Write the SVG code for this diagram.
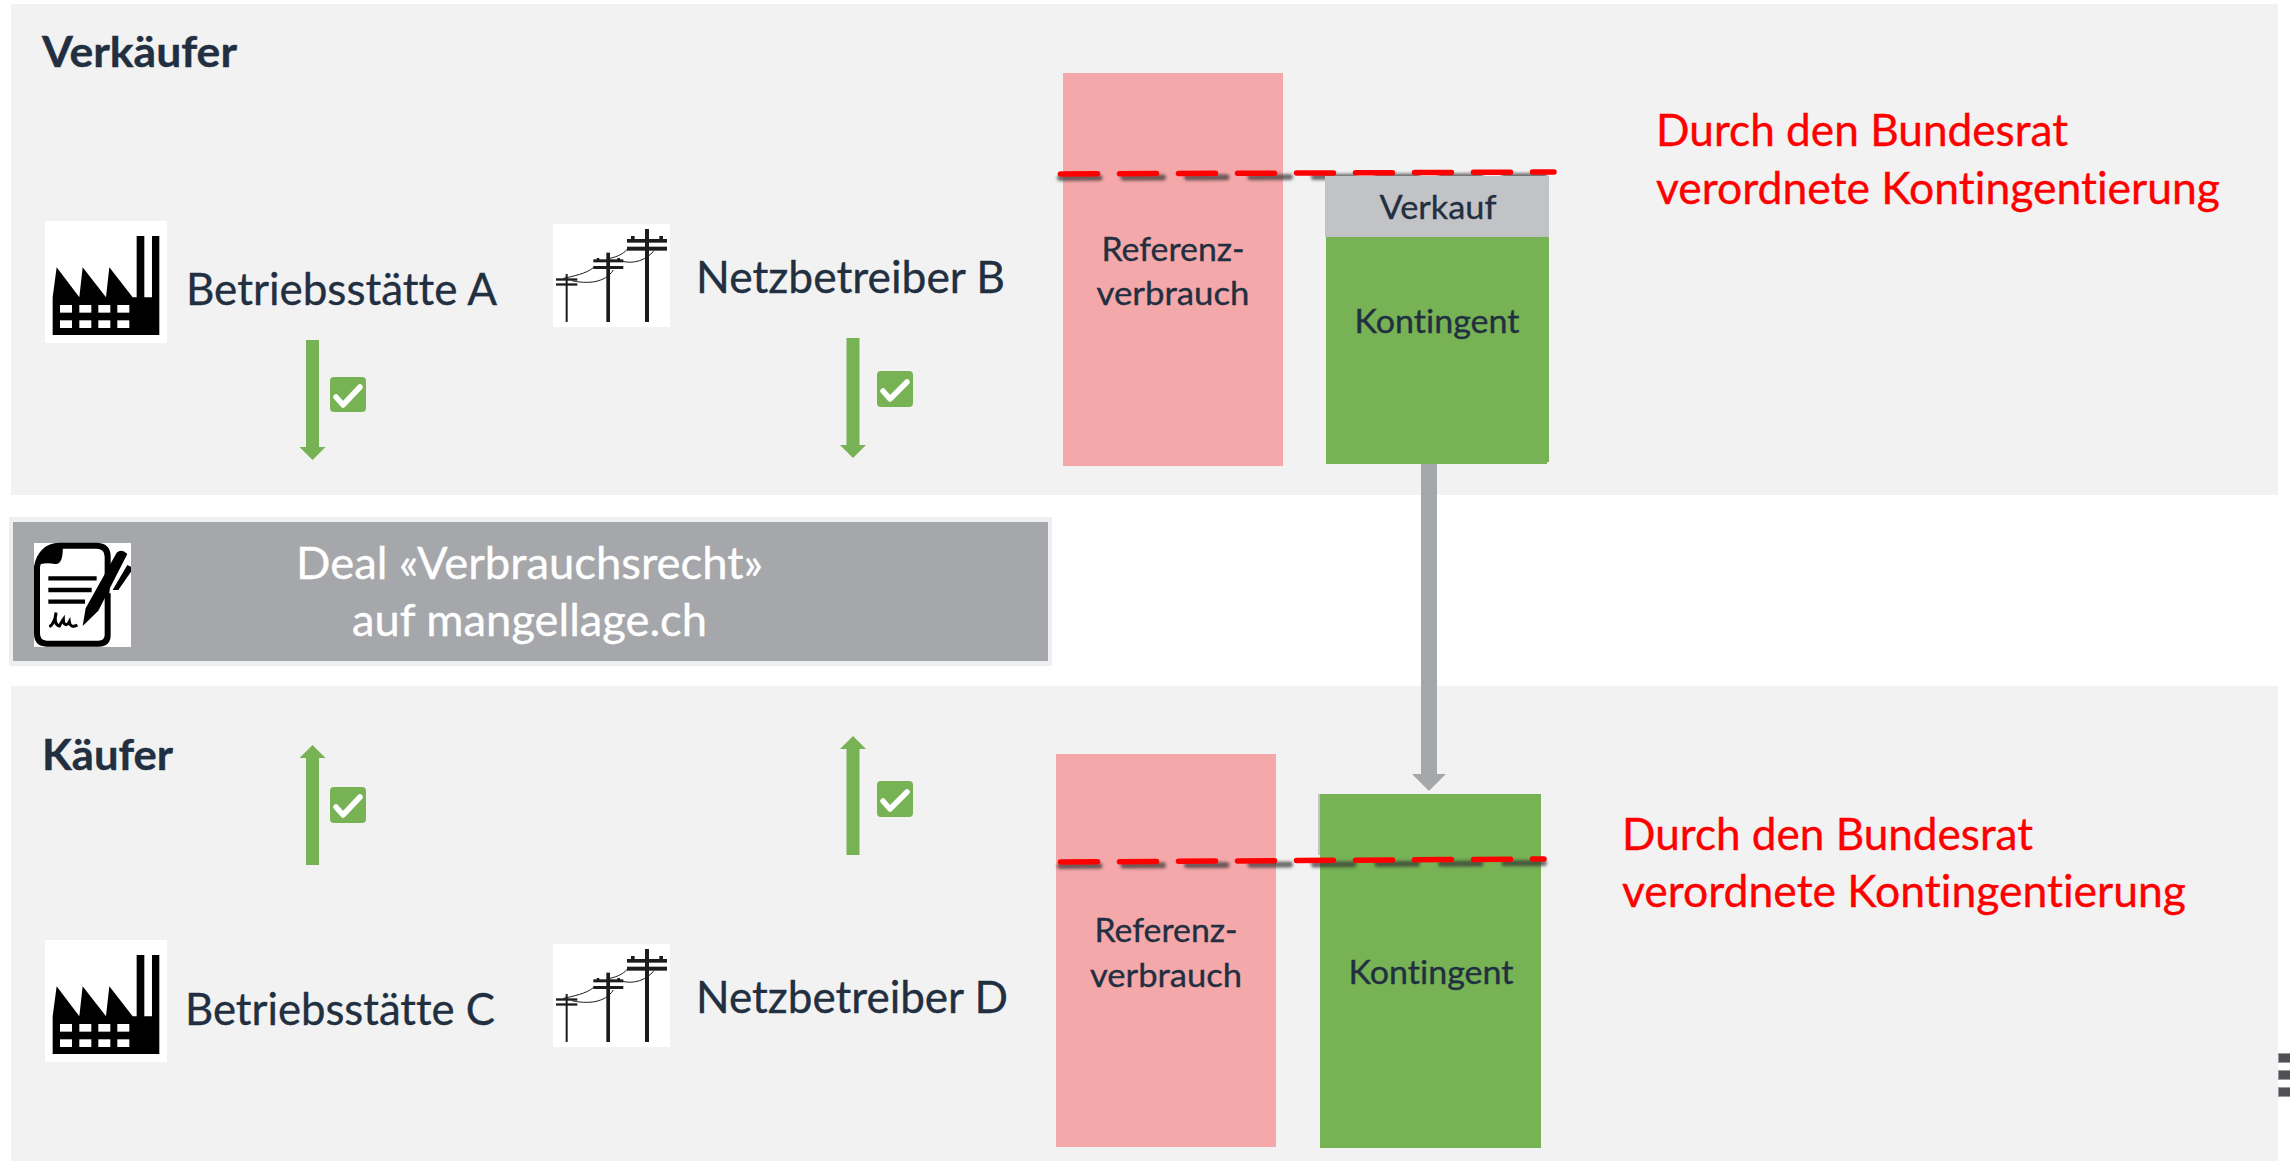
<svg xmlns="http://www.w3.org/2000/svg" width="2290" height="1161" viewBox="0 0 2290 1161">
<style>
.panel{fill:#f2f2f2}
.t{font-family:Lato,"Open Sans","Liberation Sans",sans-serif;fill:#222f40;font-variant-ligatures:none;stroke:#222f40;stroke-width:.35}
.lab{font-size:44px}
.small{font-size:33px;text-anchor:middle}
.head{font-size:42px;font-weight:700}
.deal{font-size:44px;fill:#fff;stroke:#fff;text-anchor:middle}
.red{font-size:44px;fill:#ff0000;stroke:#ff0000}
.pink{fill:#f5a8aa}
.green{fill:#77b255}
.dash{fill:none;stroke:#ff0000;stroke-width:5.500;stroke-linecap:round;stroke-dasharray:37 22}
.shadow{fill:none;stroke:#333;stroke-opacity:.7;stroke-width:6;stroke-linecap:round;stroke-dasharray:39.500 24;filter:url(#blur)}
.garrow{stroke:#77b255;stroke-width:13;fill:none;marker-end:url(#gh)}
.grey{stroke:#a6a7ab;stroke-width:16;fill:none;marker-end:url(#yh)}
.chk{fill:#77b255}
.tick{fill:none;stroke:#fff;stroke-width:5.500;stroke-linecap:round;stroke-linejoin:round}
.bar{fill:#4f5155;stroke:#9a9ca0;stroke-width:1}
</style>
<defs>
<filter id="blur" x="-5%" y="-400%" width="110%" height="900%"><feGaussianBlur stdDeviation="1.800"/></filter>
<marker id="gh" markerUnits="userSpaceOnUse" markerWidth="14" markerHeight="26" refX="0" refY="13" orient="auto" viewBox="0 0 14 26"><path d="M0 0L13 13L0 26Z" fill="#77b255"/></marker>
<marker id="yh" markerUnits="userSpaceOnUse" markerWidth="18" markerHeight="34" refX="0" refY="17" orient="auto" viewBox="0 0 18 34"><path d="M0 0L17 17L0 34Z" fill="#a6a7ab"/></marker>
<g id="factory-icon">
<rect x="45" y="221" width="122" height="122" fill="#fff"/>
<g transform="translate(30 210) scale(.3333)">
<path d="M68 375V262L80 172L148 262L158 172L228 262L238 172L308 262H320V78H343V262H366V78H388V375Z" fill="#000"/>
<g fill="#fff"><rect x="90" y="285" width="36" height="23"/><rect x="148" y="285" width="36" height="23"/><rect x="205" y="285" width="36" height="23"/><rect x="262" y="285" width="36" height="23"/><rect x="90" y="331" width="36" height="23"/><rect x="148" y="331" width="36" height="23"/><rect x="205" y="331" width="36" height="23"/><rect x="262" y="331" width="36" height="23"/></g>
</g>
</g>
<g id="poles-icon">
<rect x="553" y="224" width="117" height="103" fill="#fff"/>
<g transform="translate(530 210) scale(.3333)" fill="#1c1c1c">
<rect x="345" y="57" width="12" height="279"/><rect x="291" y="87" width="120" height="11"/><rect x="291" y="110" width="120" height="12"/><rect x="303" y="78" width="11" height="12"/><rect x="388" y="78" width="11" height="12"/>
<rect x="229" y="128" width="11" height="208"/><rect x="190" y="148" width="90" height="9"/><rect x="190" y="168" width="90" height="9"/><rect x="200" y="144" width="8" height="8"/><rect x="262" y="144" width="8" height="8"/>
<rect x="107" y="192" width="6" height="144"/><rect x="78" y="205" width="64" height="7"/><rect x="78" y="220" width="64" height="7"/>
<g fill="none" stroke="#1c1c1c" stroke-width="3"><path d="M100 205C150 195 180 185 195 168"/><path d="M125 212C170 222 225 220 250 180"/><path d="M240 145C265 140 285 128 297 112"/><path d="M270 152C310 165 350 150 372 122"/></g>
</g>
</g>
</defs>

<rect width="2290" height="1161" fill="#fff"/>

<g id="panel-verkaeufer"><rect class="panel" x="11" y="4" width="2267" height="491"/><text class="t head" x="42" y="67" textLength="195" lengthAdjust="spacingAndGlyphs">Verkäufer</text></g>
<g id="panel-kaeufer"><rect class="panel" x="11" y="686" width="2267" height="475"/><text class="t head" x="42" y="770" textLength="131" lengthAdjust="spacingAndGlyphs">Käufer</text></g>

<g id="menu-handle"><rect class="bar" x="2278.500" y="1053.500" width="12" height="9"/><rect class="bar" x="2278.500" y="1070.500" width="12" height="9"/><rect class="bar" x="2278.500" y="1087.500" width="12" height="9"/></g>

<g id="betriebsstaette-a"><use href="#factory-icon"/><text class="t lab" x="186" y="305" textLength="311" lengthAdjust="spacingAndGlyphs">Betriebsstätte A</text></g>
<g id="netzbetreiber-b"><use href="#poles-icon"/><text class="t lab" x="696" y="293" textLength="309" lengthAdjust="spacingAndGlyphs">Netzbetreiber B</text></g>
<g id="betriebsstaette-c"><use href="#factory-icon" y="719"/><text class="t lab" x="185" y="1025" textLength="310" lengthAdjust="spacingAndGlyphs">Betriebsstätte C</text></g>
<g id="netzbetreiber-d"><use href="#poles-icon" y="720"/><text class="t lab" x="696" y="1013" textLength="312" lengthAdjust="spacingAndGlyphs">Netzbetreiber D</text></g>

<g id="deal">
<rect x="9" y="517" width="1043" height="149" fill="#eeeff0"/>
<rect x="13" y="522" width="1035" height="139" fill="#a6a7ab"/>
<rect x="34" y="543" width="97" height="104" fill="#fff"/>
<g transform="translate(20 510) scale(.3333)">
<path d="M51 170C57 135 80 107 118 107H232Q263 109 263 140V375Q263 401 235 401H80Q51 401 51 370Z" fill="none" stroke="#000" stroke-width="18"/>
<path d="M45 170C50 130 80 100 128 100Q132 165 105 162Q70 155 45 170Z" fill="#000"/>
<path d="M282 120L333 125V250H268Z" fill="#fff"/>
<g stroke="#000" stroke-width="13"><path d="M85 205H230"/><path d="M85 240H215"/><path d="M85 275H195"/></g>
<path d="M188 348L197 295L290 128Q305 115 322 132L235 302Z" fill="#000"/>
<path d="M278 240L322 165L333 170V185L295 240Z" fill="#000"/>
<path d="M88 350C100 345 108 320 108 308C104 322 104 345 118 348C125 335 125 335 130 328C130 345 140 350 148 335C150 350 160 352 172 345" fill="none" stroke="#000" stroke-width="9"/>
</g>
<text class="t deal" x="529.500" y="579" textLength="467" lengthAdjust="spacingAndGlyphs">Deal «Verbrauchsrecht»</text>
<text class="t deal" x="529.500" y="636" textLength="355" lengthAdjust="spacingAndGlyphs">auf mangellage.ch</text>
</g>

<g id="seller-referenz"><rect class="pink" x="1063" y="73" width="220" height="393"/>
<text class="t small" x="1173" y="261" textLength="143" lengthAdjust="spacingAndGlyphs">Referenz-</text><text class="t small" x="1173" y="305" textLength="153" lengthAdjust="spacingAndGlyphs">verbrauch</text></g>
<path class="shadow" d="M1060 178L1556 176"/>
<g id="seller-verkauf"><rect x="1325" y="176" width="224" height="61" fill="#c2c3c6"/><text class="t small" x="1438" y="219" textLength="117" lengthAdjust="spacingAndGlyphs">Verkauf</text></g>
<g id="seller-kontingent"><path class="green" d="M1326 237H1549V462H1547V464H1326Z"/><text class="t small" x="1437" y="333" textLength="165" lengthAdjust="spacingAndGlyphs">Kontingent</text></g>
<path class="dash" d="M1060.500 174L1554 172"/>

<g id="buyer-referenz"><rect class="pink" x="1056" y="754" width="220" height="393"/>
<text class="t small" x="1166" y="942" textLength="143" lengthAdjust="spacingAndGlyphs">Referenz-</text><text class="t small" x="1166" y="987" textLength="152" lengthAdjust="spacingAndGlyphs">verbrauch</text></g>
<g id="buyer-kontingent"><rect x="1318" y="794" width="4" height="61" fill="#c2c3c6"/><rect class="green" x="1320" y="794" width="221" height="354"/><text class="t small" x="1431" y="984" textLength="165" lengthAdjust="spacingAndGlyphs">Kontingent</text></g>
<path class="shadow" d="M1060 866L1546 863"/>
<path class="dash" d="M1060.500 862L1544 859"/>

<g id="connectors">
<path class="garrow" d="M312.500 340V447"/>
<path class="garrow" d="M853 338V445"/>
<path class="garrow" d="M312.500 865V758"/>
<path class="garrow" d="M853 855V749"/>
<path class="grey" d="M1429 464V774"/>
</g>

<g id="checks">
<g><rect class="chk" x="330" y="377" width="36" height="35" rx="4"/><path class="tick" d="M336 397L343 405L360 387"/></g>
<g><rect class="chk" x="877" y="371" width="36" height="36" rx="4"/><path class="tick" d="M883 391L890 399L907 382"/></g>
<g><rect class="chk" x="330" y="787" width="36" height="36" rx="4"/><path class="tick" d="M336 807L343 815L360 797"/></g>
<g><rect class="chk" x="877" y="781" width="36" height="36" rx="4"/><path class="tick" d="M883 801L890 809L907 792"/></g>
</g>

<g id="quota-note-seller"><text class="t red" x="1656" y="146" textLength="412" lengthAdjust="spacingAndGlyphs">Durch den Bundesrat</text><text class="t red" x="1656" y="204" textLength="564" lengthAdjust="spacingAndGlyphs">verordnete Kontingentierung</text></g>
<g id="quota-note-buyer"><text class="t red" x="1622" y="850" textLength="411" lengthAdjust="spacingAndGlyphs">Durch den Bundesrat</text><text class="t red" x="1622" y="907" textLength="564" lengthAdjust="spacingAndGlyphs">verordnete Kontingentierung</text></g>
</svg>
